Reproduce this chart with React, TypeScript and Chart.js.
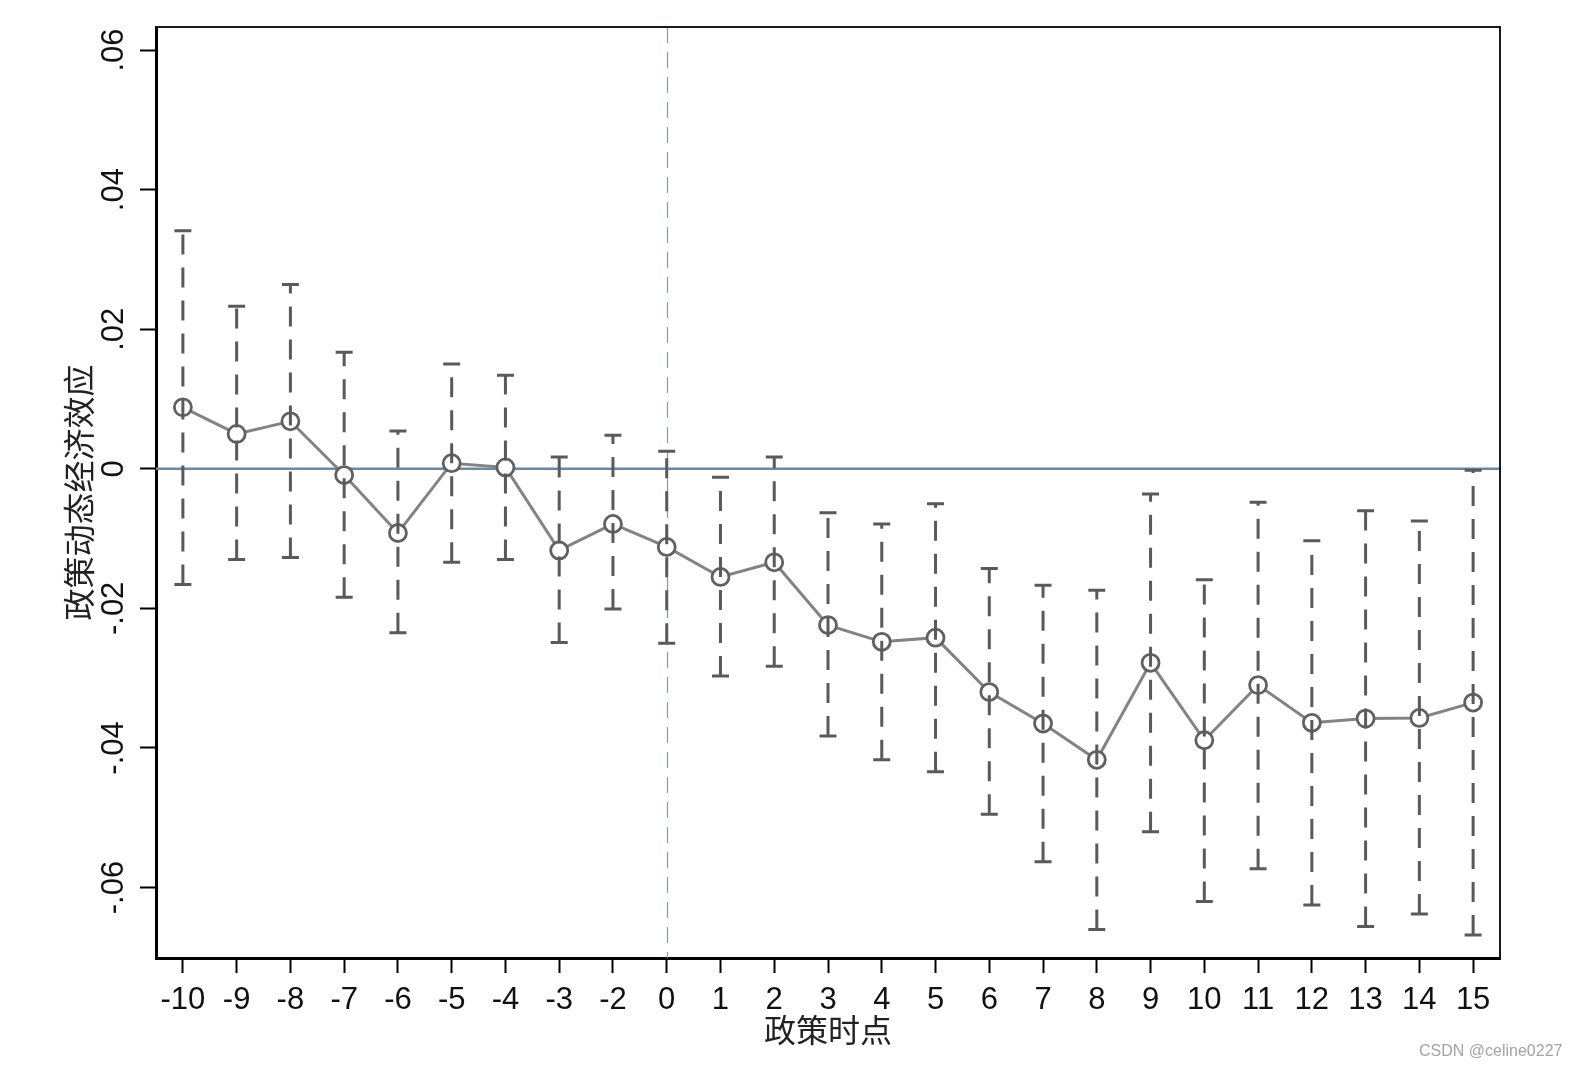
import React, { useEffect, useRef } from 'react';
import Chart from 'chart.js/auto';

const periods = ['-10', '-9', '-8', '-7', '-6', '-5', '-4', '-3', '-2', '0', '1', '2', '3', '4', '5', '6', '7', '8', '9', '10', '11', '12', '13', '14', '15'];
const coefs = [0.0088, 0.0050, 0.0068, -0.0009, -0.0092, 0.0008, 0.0002, -0.0117, -0.0079, -0.0112, -0.0155, -0.0134, -0.0224, -0.0248, -0.0242, -0.0320, -0.0365, -0.0417, -0.0278, -0.0389, -0.0310, -0.0364, -0.0358, -0.0357, -0.0335];
const upperCI = [0.0341, 0.0233, 0.0264, 0.0167, 0.0054, 0.0150, 0.0134, 0.0017, 0.0048, 0.0025, -0.0012, 0.0017, -0.0063, -0.0079, -0.0050, -0.0143, -0.0167, -0.0174, -0.0036, -0.0159, -0.0048, -0.0103, -0.0060, -0.0075, -0.0002];
const lowerCI = [-0.0166, -0.0130, -0.0127, -0.0184, -0.0235, -0.0134, -0.0130, -0.0249, -0.0201, -0.0250, -0.0297, -0.0283, -0.0383, -0.0417, -0.0434, -0.0495, -0.0563, -0.0660, -0.0520, -0.0620, -0.0573, -0.0625, -0.0656, -0.0638, -0.0668];
const yTickValues = [-0.06, -0.04, -0.02, 0, 0.02, 0.04, 0.06];
const yTickLabels = ['-.06', '-.04', '-.02', '0', '.02', '.04', '.06'];
const yMin = -0.0701;
const yMax = 0.0633;
const eventPeriod = '0';
const xTitle = '政策时点';
const yTitle = '政策动态经济效应';
const watermark = 'CSDN @celine0227';

const NUM_FONT = "'Liberation Sans', Arial, Helvetica, sans-serif";
const CJK_FONT = "'Noto Sans CJK SC', sans-serif";

const refLinesPlugin = {
  id: 'refLines',
  beforeDatasetsDraw(chart: any) {
    const { ctx, chartArea, scales } = chart;
    const x = scales.x;
    const y = scales.y;
    ctx.save();
    const y0 = y.getPixelForValue(0);
    ctx.strokeStyle = '#6b88a5';
    ctx.lineWidth = 2.5;
    ctx.setLineDash([]);
    ctx.beginPath();
    ctx.moveTo(chartArea.left, y0);
    ctx.lineTo(chartArea.right, y0);
    ctx.stroke();
    const xi = periods.indexOf(eventPeriod);
    const xp = Math.round(x.getPixelForValue(xi)) + 0.5;
    ctx.strokeStyle = '#7f9e96';
    ctx.lineWidth = 1.2;
    ctx.setLineDash([16, 9]);
    ctx.beginPath();
    ctx.moveTo(xp, chartArea.top);
    ctx.lineTo(xp, chartArea.bottom);
    ctx.stroke();
    ctx.restore();
  },
};

const errorBarPlugin = {
  id: 'errorBars',
  afterDatasetsDraw(chart: any) {
    const { ctx, scales } = chart;
    const x = scales.x;
    const y = scales.y;
    ctx.save();
    ctx.strokeStyle = '#5a5a5a';
    ctx.lineWidth = 3;
    ctx.lineCap = 'butt';
    periods.forEach((_, i) => {
      const px = x.getPixelForValue(i);
      const yl = y.getPixelForValue(lowerCI[i]);
      const yu = y.getPixelForValue(upperCI[i]);
      ctx.setLineDash([20, 13]);
      ctx.beginPath();
      ctx.moveTo(px, yl);
      ctx.lineTo(px, yu);
      ctx.stroke();
      ctx.setLineDash([]);
      ctx.beginPath();
      ctx.moveTo(px - 8.5, yl);
      ctx.lineTo(px + 8.5, yl);
      ctx.moveTo(px - 8.5, yu);
      ctx.lineTo(px + 8.5, yu);
      ctx.stroke();
    });
    ctx.restore();
  },
};

const framePlugin = {
  id: 'frame',
  afterDraw(chart: any) {
    const { ctx, chartArea } = chart;
    ctx.save();
    ctx.strokeStyle = '#1a1a1a';
    ctx.lineWidth = 2;
    ctx.beginPath();
    ctx.moveTo(chartArea.left, chartArea.top);
    ctx.lineTo(chartArea.right, chartArea.top);
    ctx.lineTo(chartArea.right, chartArea.bottom);
    ctx.stroke();
    ctx.restore();
  },
};

export default function App() {
  const ref = useRef<HTMLCanvasElement>(null);
  useEffect(() => {
    const canvas = ref.current;
    if (!canvas) return;
    const chart = new Chart(canvas, {
      type: 'line',
      data: {
        labels: periods,
        datasets: [
          {
            data: coefs,
            borderColor: '#838383',
            borderWidth: 3,
            pointRadius: 8.5,
            pointHoverRadius: 8.5,
            pointBorderWidth: 2.8,
            pointBorderColor: '#606060',
            pointBackgroundColor: '#ffffff',
            tension: 0,
            fill: false,
          },
        ],
      },
      options: {
        responsive: false,
        animation: false,
        devicePixelRatio: 1,
        events: [],
        layout: { padding: { left: 0, top: 27, right: 76, bottom: 0 } },
        plugins: {
          legend: { display: false },
          tooltip: { enabled: false },
        },
        scales: {
          x: {
            type: 'category',
            offset: true,
            border: { display: true, color: '#000', width: 3 },
            grid: {
              display: true,
              drawOnChartArea: false,
              drawTicks: true,
              tickLength: 15,
              tickWidth: 2,
              tickColor: '#000',
              color: '#000',
              offset: false,
            },
            ticks: {
              color: '#111',
              font: { family: NUM_FONT, size: 31 },
              padding: 9,
              autoSkip: false,
              maxRotation: 0,
              minRotation: 0,
            },
            title: {
              display: true,
              text: xTitle,
              color: '#222',
              font: { family: CJK_FONT, size: 32 },
              padding: { top: 0, bottom: 17 },
            },
            afterFit(scale: any) {
              scale.height = 108;
            },
          },
          y: {
            type: 'linear',
            min: yMin,
            max: yMax,
            border: { display: true, color: '#000', width: 3 },
            grid: {
              display: true,
              drawOnChartArea: false,
              drawTicks: true,
              tickLength: 16,
              tickWidth: 2,
              tickColor: '#000',
              color: '#000',
            },
            afterBuildTicks(scale: any) {
              scale.ticks = yTickValues.map((v) => ({ value: v }));
            },
            ticks: {
              color: '#111',
              font: { family: NUM_FONT, size: 31 },
              padding: -1,
              minRotation: 90,
              maxRotation: 90,
              crossAlign: 'center',
              callback(value: any) {
                const idx = yTickValues.findIndex((v) => Math.abs(v - Number(value)) < 1e-9);
                return idx >= 0 ? yTickLabels[idx] : '';
              },
            },
            title: {
              display: true,
              text: yTitle,
              color: '#222',
              font: { family: CJK_FONT, size: 32 },
              padding: { top: 60, bottom: 0 },
            },
            afterFit(scale: any) {
              scale.width = 156;
            },
          },
        },
      },
      plugins: [refLinesPlugin, errorBarPlugin, framePlugin],
    } as any);
    return () => chart.destroy();
  }, []);

  return (
    <div style={{ position: 'absolute', left: 0, top: 0, width: 1576, height: 1066, background: '#fff' }}>
      <canvas ref={ref} width={1576} height={1066} style={{ display: 'block', width: 1576, height: 1066 }} />
      <div
        style={{
          position: 'absolute',
          left: 1419,
          top: 1043,
          fontFamily: NUM_FONT,
          fontSize: 16,
          lineHeight: '16px',
          color: '#a3a3a3',
          whiteSpace: 'nowrap',
        }}
      >
        {watermark}
      </div>
    </div>
  );
}
